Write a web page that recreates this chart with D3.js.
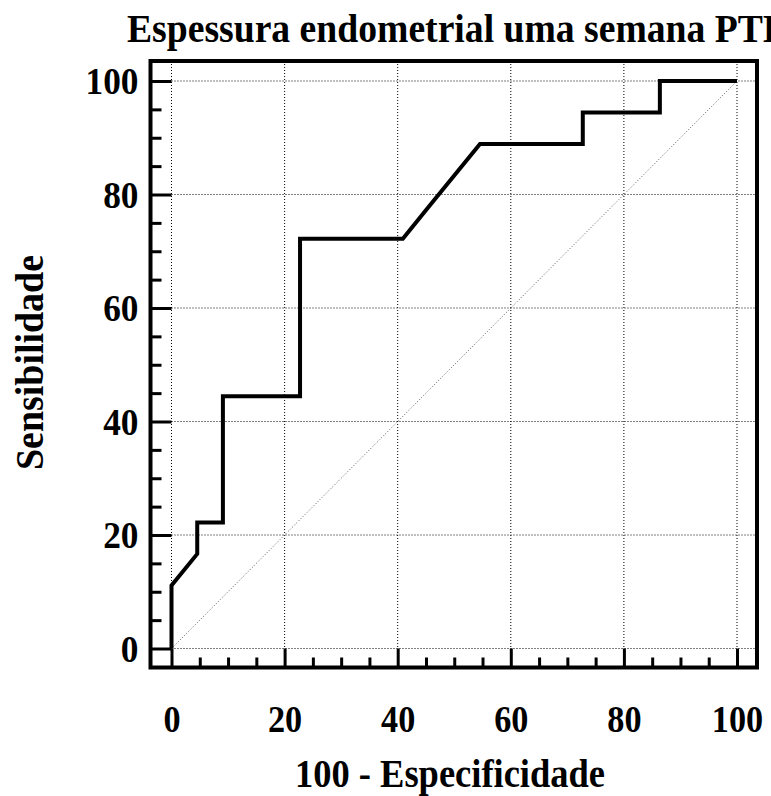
<!DOCTYPE html>
<html>
<head>
<meta charset="utf-8">
<script src="https://cdn.jsdelivr.net/npm/d3@7"></script>
<style>
  body { margin: 0; background: #fff; }
  svg { display: block; }
  text { font-family: "Liberation Serif", "Times New Roman", serif; font-weight: bold; fill: #000; }
</style>
</head>
<body>
<div id="chart"></div>
<script>
// ROC points: 100 - specificity (x) and sensitivity (y)
const fpr = [0, 0, 4.55, 4.55, 9.09, 9.09, 22.73, 22.73, 40.91, 45.45, 50, 54.55, 72.73, 72.73, 86.36, 86.36, 100];
const tpr = [0, 11.11, 16.67, 22.22, 22.22, 44.44, 44.44, 72.22, 72.22, 77.78, 83.33, 88.89, 88.89, 94.44, 94.44, 100, 100];
const majorTicks = [0, 20, 40, 60, 80, 100];
const minorTicks = d3.range(5, 100, 5).filter(d => d % 20 !== 0);
const title = 'Espessura endometrial uma semana PTB';
const xTitle = '100 - Especificidade';
const yTitle = 'Sensibilidade';

const width = 771;
const height = 796;

const svg = d3.select('#chart').append('svg')
  .attr('width', width)
  .attr('height', height);

// squeeze text a bit, the original font is narrower than Liberation Serif
function squeeze(sel, ratio) {
  sel.each(function () {
    const w = this.getComputedTextLength();
    d3.select(this).attr('textLength', w * ratio).attr('lengthAdjust', 'spacingAndGlyphs');
  });
}

// scales
const x = d3.scaleLinear().domain([0, 100]).range([171.5, 737]);
const y = d3.scaleLinear().domain([0, 100]).range([648.5, 81]);

// frame edges
const fLeft = x(0) - 21, fRight = x(100) + 20;
const fTop = y(100) - 20, fBottom = y(0) + 19;

// dotted grid
svg.append('g').selectAll('line')
  .data(majorTicks).enter().append('line')
  .attr('x1', x(0)).attr('x2', fRight)
  .attr('y1', d => y(d)).attr('y2', d => y(d))
  .attr('stroke', '#000').attr('stroke-width', 1).attr('stroke-dasharray', '1,2');

svg.append('g').selectAll('line')
  .data(majorTicks).enter().append('line')
  .attr('x1', d => x(d)).attr('x2', d => x(d))
  .attr('y1', fTop).attr('y2', y(0))
  .attr('stroke', '#000').attr('stroke-width', 1).attr('stroke-dasharray', '1,2');

// reference diagonal
svg.append('line')
  .attr('x1', x(0)).attr('y1', y(0))
  .attr('x2', x(100)).attr('y2', y(100))
  .attr('stroke', '#555').attr('stroke-width', 1).attr('stroke-dasharray', '1,2');

// y ticks: major from frame to x=0, minor short
svg.append('g')
  .attr('transform', `translate(${x(0)},0)`)
  .call(d3.axisLeft(y).tickValues(majorTicks).tickSize(x(0) - fLeft).tickFormat(''))
  .call(g => g.select('.domain').remove())
  .call(g => g.selectAll('line').attr('stroke-width', 3));

svg.append('g')
  .attr('transform', `translate(${fLeft},0)`)
  .call(d3.axisRight(y).tickValues(minorTicks).tickSize(11).tickFormat(''))
  .call(g => g.select('.domain').remove())
  .call(g => g.selectAll('line').attr('stroke-width', 3));

// x ticks
svg.append('g')
  .attr('transform', `translate(0,${y(0)})`)
  .call(d3.axisBottom(x).tickValues(majorTicks).tickSize(fBottom - y(0)).tickFormat(''))
  .call(g => g.select('.domain').remove())
  .call(g => g.selectAll('line').attr('stroke-width', 3));

svg.append('g')
  .attr('transform', `translate(0,${fBottom})`)
  .call(d3.axisTop(x).tickValues(minorTicks).tickSize(10).tickFormat(''))
  .call(g => g.select('.domain').remove())
  .call(g => g.selectAll('line').attr('stroke-width', 3));

// tick labels
const yLab = svg.append('g')
  .attr('transform', `translate(${fLeft},0)`)
  .call(d3.axisLeft(y).tickValues(majorTicks).tickSize(0).tickPadding(12).tickFormat(d3.format('d')));
yLab.select('.domain').remove();
yLab.selectAll('text')
  .attr('font-family', '"Liberation Serif", serif')
  .attr('font-weight', 'bold')
  .attr('font-size', 38)
  .attr('dy', '0.34em')
  .call(squeeze, 0.93);

const xLab = svg.append('g')
  .attr('transform', `translate(0,${fBottom})`)
  .call(d3.axisBottom(x).tickValues(majorTicks).tickSize(0).tickPadding(0).tickFormat(d3.format('d')));
xLab.select('.domain').remove();
xLab.selectAll('text')
  .attr('font-family', '"Liberation Serif", serif')
  .attr('font-weight', 'bold')
  .attr('font-size', 38)
  .attr('dy', null)
  .attr('y', 64)
  .call(squeeze, 0.9);

// ROC curve
const pts = fpr.map((d, i) => [d, tpr[i]]);
svg.append('path')
  .datum(pts)
  .attr('fill', 'none')
  .attr('stroke', '#000')
  .attr('stroke-width', 4)
  .attr('stroke-linejoin', 'miter')
  .attr('d', d3.line().x(d => x(d[0])).y(d => y(d[1])));

// frame
svg.append('rect')
  .attr('x', fLeft).attr('y', fTop)
  .attr('width', fRight - fLeft).attr('height', fBottom - fTop)
  .attr('fill', 'none').attr('stroke', '#000').attr('stroke-width', 4);

// titles
svg.append('text')
  .attr('x', 127).attr('y', 42)
  .attr('font-size', 39)
  .attr('textLength', 661)
  .attr('lengthAdjust', 'spacingAndGlyphs')
  .text(title);

svg.append('text')
  .attr('x', 295).attr('y', 787)
  .attr('font-size', 39)
  .attr('textLength', 310)
  .attr('lengthAdjust', 'spacingAndGlyphs')
  .text(xTitle);

svg.append('text')
  .attr('transform', `translate(43,470) rotate(-90)`)
  .attr('font-size', 39)
  .attr('textLength', 215)
  .attr('lengthAdjust', 'spacingAndGlyphs')
  .text(yTitle);
</script>
</body>
</html>
